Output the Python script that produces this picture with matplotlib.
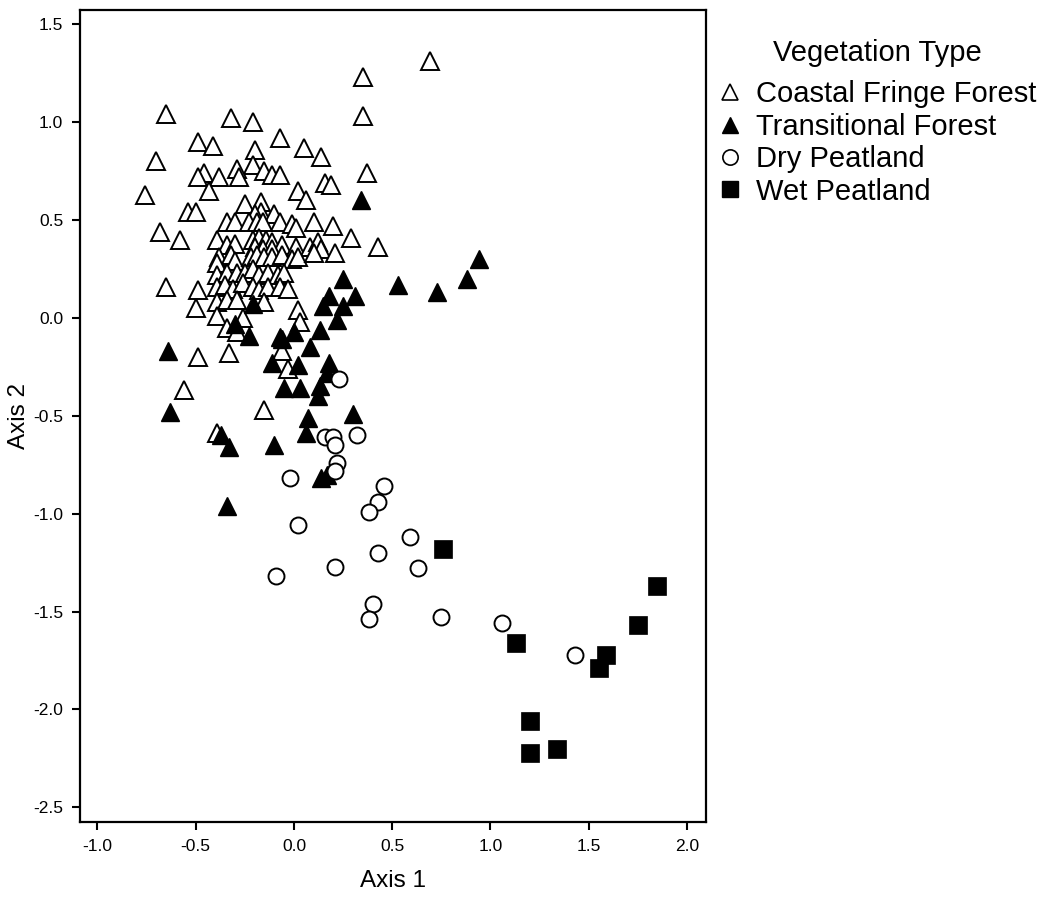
import matplotlib
matplotlib.use("Agg")
import matplotlib.pyplot as plt
from matplotlib.lines import Line2D

plt.rcParams['font.family'] = ['Liberation Sans', 'DejaVu Sans']

# Coastal Fringe Forest (open triangles)
cff_x = [0.69, 0.35, 0.35, -0.65, -0.32, -0.21, -0.07, -0.49, -0.41, -0.20,
         0.05, 0.14, -0.70, -0.21, -0.29, -0.15, -0.11, -0.07, -0.46, -0.49,
         -0.38, -0.28, 0.37, 0.02, -0.43, -0.76, 0.06, 0.16, 0.19, -0.54,
         -0.50, -0.25, -0.17, -0.17, -0.20, -0.10, -0.68, -0.58, -0.34, -0.30,
         -0.23, -0.19, -0.16, -0.07, -0.01, 0.01, 0.10, 0.20, 0.29, 0.43,
         -0.39, -0.34, -0.30, -0.21, -0.18, -0.14, -0.11, -0.06, 0.01, 0.08,
         0.12, 0.14, -0.20, -0.16, -0.11, -0.38, -0.32, -0.39, -0.30, -0.22,
         -0.19, -0.15, -0.11, -0.06, -0.01, 0.02, 0.10, 0.21, -0.39, -0.34,
         -0.29, -0.25, -0.21, -0.18, -0.13, -0.08, -0.05, -0.65, -0.49, -0.39,
         -0.35, -0.31, -0.26, -0.21, -0.18, -0.13, -0.07, -0.03, -0.50, -0.39,
         -0.34, -0.29, -0.15, -0.39, -0.26, -0.34, -0.29, 0.02, 0.03, -0.49,
         -0.33, -0.56, -0.15, -0.39, -0.03, -0.06]
cff_y = [1.31, 1.23, 1.03, 1.04, 1.02, 1.00, 0.92, 0.90, 0.88, 0.86,
         0.87, 0.82, 0.80, 0.78, 0.76, 0.75, 0.73, 0.73, 0.74, 0.72,
         0.72, 0.72, 0.74, 0.65, 0.65, 0.63, 0.60, 0.69, 0.68, 0.54,
         0.54, 0.58, 0.59, 0.54, 0.53, 0.53, 0.44, 0.40, 0.49, 0.49,
         0.49, 0.49, 0.49, 0.49, 0.48, 0.46, 0.49, 0.47, 0.41, 0.36,
         0.40, 0.37, 0.38, 0.40, 0.41, 0.40, 0.39, 0.37, 0.36, 0.36,
         0.39, 0.35, 0.36, 0.35, 0.35, 0.31, 0.32, 0.28, 0.29, 0.31,
         0.32, 0.31, 0.31, 0.32, 0.30, 0.31, 0.33, 0.33, 0.22, 0.23,
         0.23, 0.23, 0.25, 0.22, 0.23, 0.22, 0.23, 0.16, 0.14, 0.16,
         0.17, 0.15, 0.18, 0.16, 0.14, 0.16, 0.16, 0.15, 0.05, 0.08,
         0.09, 0.09, 0.08, 0.01, 0.00, -0.05, -0.07, 0.04, -0.02, -0.20,
         -0.18, -0.37, -0.47, -0.59, -0.26, -0.17]

# Transitional Forest (filled triangles)
tf_x = [0.34, 0.94, 0.88, 0.73, 0.53, 0.25, 0.31, 0.18, 0.25, 0.15,
        0.22, 0.13, 0.00, 0.08, 0.02, 0.18, 0.17, 0.13, 0.03, -0.05,
        -0.06, -0.21, -0.30, -0.23, -0.64, -0.07, -0.11, 0.12, 0.07, 0.06,
        0.30, -0.63, -0.37, -0.33, -0.10, 0.14, 0.17, -0.34]
tf_y = [0.60, 0.30, 0.20, 0.13, 0.17, 0.20, 0.11, 0.11, 0.06, 0.06,
        -0.01, -0.06, -0.07, -0.15, -0.24, -0.23, -0.28, -0.35, -0.36, -0.36,
        -0.11, 0.07, -0.03, -0.09, -0.17, -0.10, -0.23, -0.40, -0.51, -0.59,
        -0.49, -0.48, -0.60, -0.66, -0.65, -0.82, -0.80, -0.96]

# Dry Peatland (open circles)
dp_x = [0.23, 0.16, 0.20, 0.21, 0.32, 0.22, 0.21, -0.02, 0.46, 0.43,
        0.38, 0.02, 0.59, 0.43, 0.63, 0.21, -0.09, 0.40, 0.38, 0.75,
        1.06, 1.43]
dp_y = [-0.31, -0.61, -0.61, -0.65, -0.60, -0.74, -0.78, -0.82, -0.86, -0.94,
        -0.99, -1.06, -1.12, -1.20, -1.28, -1.27, -1.32, -1.46, -1.54, -1.53,
        -1.56, -1.72]

# Wet Peatland (filled squares)
wp_x = [0.76, 1.85, 1.75, 1.13, 1.59, 1.55, 1.20, 1.20, 1.34]
wp_y = [-1.18, -1.37, -1.57, -1.66, -1.72, -1.79, -2.06, -2.22, -2.20]

labels = ["Coastal Fringe Forest", "Transitional Forest", "Dry Peatland", "Wet Peatland"]
x_ticks = [-1.0, -0.5, 0.0, 0.5, 1.0, 1.5, 2.0]
y_ticks = [1.5, 1.0, 0.5, 0.0, -0.5, -1.0, -1.5, -2.0, -2.5]

fig = plt.figure(figsize=(10.43, 8.97), dpi=100)
ax = fig.add_axes([0.0767, 0.0836, 0.6002, 0.9053])

ms = 13
ax.plot(cff_x, cff_y, linestyle='none', marker='^', ms=ms, mfc='white', mec='black', mew=1.4)
ax.plot(tf_x, tf_y, linestyle='none', marker='^', ms=ms, mfc='black', mec='black', mew=1.0)
ax.plot(dp_x, dp_y, linestyle='none', marker='o', ms=11.5, mfc='white', mec='black', mew=1.4)
ax.plot(wp_x, wp_y, linestyle='none', marker='s', ms=12.5, mfc='black', mec='black', mew=0.5)

ax.set_xlim(-1.089, 2.097)
ax.set_ylim(-2.575, 1.573)
ax.set_xticks(x_ticks)
ax.set_xticklabels([f"{v:.1f}" for v in x_ticks])
ax.set_yticks(y_ticks)
ax.set_yticklabels([f"{v:.1f}" for v in y_ticks])
ax.tick_params(direction='out', length=6, width=1.5, labelsize=12.5, pad=6)
for s in ax.spines.values():
    s.set_linewidth(1.6)
ax.set_xlabel("Axis 1", fontsize=17.5, labelpad=12)
ax.set_ylabel("Axis 2", fontsize=17.5, labelpad=2)

handles = [
    Line2D([], [], linestyle='none', marker='^', ms=12, mfc='white', mec='black', mew=1.2),
    Line2D([], [], linestyle='none', marker='^', ms=12, mfc='black', mec='black'),
    Line2D([], [], linestyle='none', marker='o', ms=11, mfc='white', mec='black', mew=1.2),
    Line2D([], [], linestyle='none', marker='s', ms=11.5, mfc='black', mec='black'),
]
leg = ax.legend(handles, labels, loc='upper left', bbox_to_anchor=(1.01, 0.972),
                frameon=False, title="Vegetation Type", fontsize=21, title_fontsize=21,
                handlelength=0.8, handletextpad=0.5, labelspacing=0.15,
                borderaxespad=0.0, borderpad=0.2)
leg._legend_box.align = "center"
leg._legend_box.sep = 10

fig.savefig("out.png", dpi=100)
